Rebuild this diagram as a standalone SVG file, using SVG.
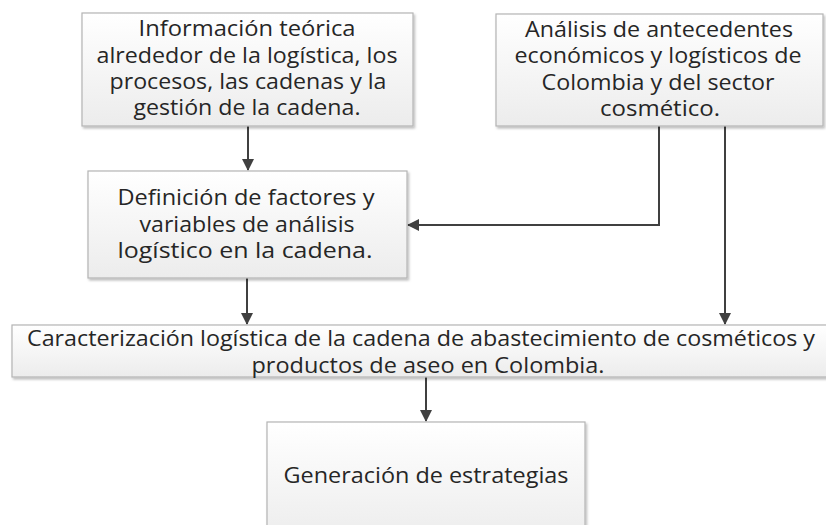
<svg xmlns="http://www.w3.org/2000/svg" width="826" height="525" viewBox="0 0 826 525">
<defs>
<linearGradient id="g" x1="0" y1="0" x2="0" y2="1">
<stop offset="0" stop-color="#ffffff"/>
<stop offset="1" stop-color="#ececec"/>
</linearGradient>
<filter id="sh" x="-5%" y="-5%" width="110%" height="115%">
<feDropShadow dx="1.5" dy="2" stdDeviation="1" flood-color="#000" flood-opacity="0.25"/>
</filter>
<marker id="ah" viewBox="0 0 12 12" refX="11" refY="6" markerWidth="12" markerHeight="12" markerUnits="userSpaceOnUse" orient="auto">
<path d="M0,0 L12,6 L0,12 Z" fill="#404040"/>
</marker>
<style>
.box{fill:url(#g);stroke:#b4b4b4;stroke-width:1.2;filter:url(#sh)}
.t{font-family:"Open Sans","Liberation Sans",sans-serif;font-size:21px;fill:#262626;text-anchor:middle}
.c{fill:none;stroke:#404040;stroke-width:2}
</style>
</defs>
<rect width="826" height="525" fill="#ffffff"/>
<g id="connectors">
<path class="c" d="M248,126 V170" marker-end="url(#ah)"/>
<path class="c" d="M659,126 V225 H408" marker-end="url(#ah)"/>
<path class="c" d="M725,126 V324" marker-end="url(#ah)"/>
<path class="c" d="M247,278 V324" marker-end="url(#ah)"/>
<path class="c" d="M426,377 V421" marker-end="url(#ah)"/>
</g>
<g id="n1">
<rect class="box" x="82" y="13" width="331" height="113"/>
<text class="t" x="247" y="36" textLength="217" lengthAdjust="spacingAndGlyphs">Información teórica</text>
<text class="t" x="247" y="63" textLength="301" lengthAdjust="spacingAndGlyphs">alrededor de la logística, los</text>
<text class="t" x="248" y="89" textLength="277" lengthAdjust="spacingAndGlyphs">procesos, las cadenas y la</text>
<text class="t" x="247" y="115" textLength="227" lengthAdjust="spacingAndGlyphs">gestión de la cadena.</text>
</g>
<g id="n2">
<rect class="box" x="496" y="14" width="327" height="112"/>
<text class="t" x="659" y="37" textLength="268" lengthAdjust="spacingAndGlyphs">Análisis de antecedentes</text>
<text class="t" x="658" y="63" textLength="287" lengthAdjust="spacingAndGlyphs">económicos y logísticos de</text>
<text class="t" x="658" y="90" textLength="233" lengthAdjust="spacingAndGlyphs">Colombia y del sector</text>
<text class="t" x="660" y="116" textLength="120" lengthAdjust="spacingAndGlyphs">cosmético.</text>
</g>
<g id="n3">
<rect class="box" x="88" y="171" width="319" height="107"/>
<text class="t" x="246" y="205" textLength="257" lengthAdjust="spacingAndGlyphs">Definición de factores y</text>
<text class="t" x="247" y="232" textLength="215" lengthAdjust="spacingAndGlyphs">variables de análisis</text>
<text class="t" x="245" y="258" textLength="255" lengthAdjust="spacingAndGlyphs">logístico en la cadena.</text>
</g>
<g id="n4">
<rect class="box" x="12" y="325" width="830" height="52"/>
<text class="t" x="421" y="346" textLength="788" lengthAdjust="spacingAndGlyphs">Caracterización logística de la cadena de abastecimiento de cosméticos y</text>
<text class="t" x="428" y="373" textLength="353" lengthAdjust="spacingAndGlyphs">productos de aseo en Colombia.</text>
</g>
<g id="n5">
<rect class="box" x="267" y="422" width="318" height="120"/>
<text class="t" x="426" y="483" textLength="285" lengthAdjust="spacingAndGlyphs">Generación de estrategias</text>
</g>
</svg>
